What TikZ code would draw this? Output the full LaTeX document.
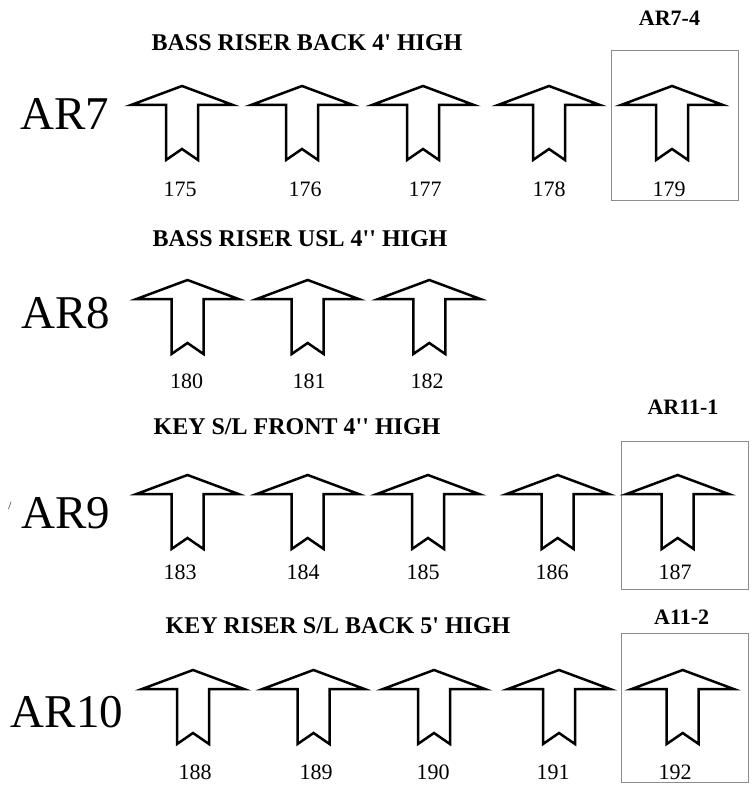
\documentclass[tikz,border=0pt]{standalone}
\usepackage{fontspec}
\setmainfont{Liberation Serif}
\newcommand{\sq}{\textquotesingle}
\begin{document}
\begin{tikzpicture}[x=1pt,y=-1pt,
  arrowline/.style={draw=black,line width=2.5pt,line join=miter,fill=white},
  framebox/.style={draw=black!45,line width=1pt},
  rowlabel/.style={anchor=base,inner sep=0pt,font=\fontsize{47}{50}\selectfont},
  numlabel/.style={anchor=base,inner sep=0pt,font=\fontsize{22}{24}\selectfont},
  rowtitle/.style={anchor=base,inner sep=0pt,font=\fontsize{24}{26}\selectfont\bfseries},
  boxtitle/.style={anchor=base,inner sep=0pt,font=\fontsize{22}{24}\selectfont\bfseries},
  riser/.pic={\path[arrowline] (0,0) -- (51,19) -- (16,19) -- (16,74) -- (0,63) -- (-16,74) -- (-16,19) -- (-51,19) -- cycle;}
]
\useasboundingbox (0,0) rectangle (753,794);

% frames
\draw[framebox] (611,51) rectangle (738,201);
\draw[framebox] (621,441) rectangle (748,589);
\draw[framebox] (621,633) rectangle (748,782);

% Row AR7
\node[rowtitle] (t7) at (307,51) {BASS RISER BACK 4\sq{} HIGH};
\node[boxtitle] (b7) at (669.5,26) {AR7-4};
\node[rowlabel] (r7) at (65,130) {AR7};
\foreach \x/\n/\lx in {182/175/180,302/176/305,423/177/425,549/178/549,672/179/669}{
  \pic at (\x,86) {riser};
  \node[numlabel] (n\n) at (\lx,197) {\n};
}

% Row AR8
\node[rowtitle] (t8) at (300,247) {BASS RISER USL 4\sq\sq{} HIGH};
\node[rowlabel] (r8) at (66,328) {AR8};
\foreach \x/\n/\lx in {187.5/180/186.5,307.7/181/309,429.3/182/427}{
  \pic at (\x,280) {riser};
  \node[numlabel] (n\n) at (\lx,388) {\n};
}

% Row AR9
\node[rowtitle] (t9) at (297,434) {KEY S/L FRONT 4\sq\sq{} HIGH};
\node[boxtitle] (b9) at (683,414) {AR11-1};
\node[inner sep=0pt,font=\fontsize{11}{12}\selectfont] (sl) at (10,506) {/};
\node[rowlabel] (r9) at (66,528) {AR9};
\foreach \x/\n/\lx in {187.5/183/180,307.7/184/303,428/185/423,557.7/186/552,677.7/187/675}{
  \pic at (\x,475) {riser};
  \node[numlabel] (n\n) at (\lx,579.5) {\n};
}

% Row AR10
\node[rowtitle] (t10) at (338,633) {KEY RISER S/L BACK 5\sq{} HIGH};
\node[boxtitle] (b10) at (681.7,624) {A11-2};
\node[rowlabel] (r10) at (67,727) {AR10};
\foreach \x/\n/\lx in {193/188/195,313.5/189/316,434/190/433,559/191/553,682.7/192/675}{
  \pic at (\x,670) {riser};
  \node[numlabel] (n\n) at (\lx,779.5) {\n};
}
\end{tikzpicture}
\end{document}
